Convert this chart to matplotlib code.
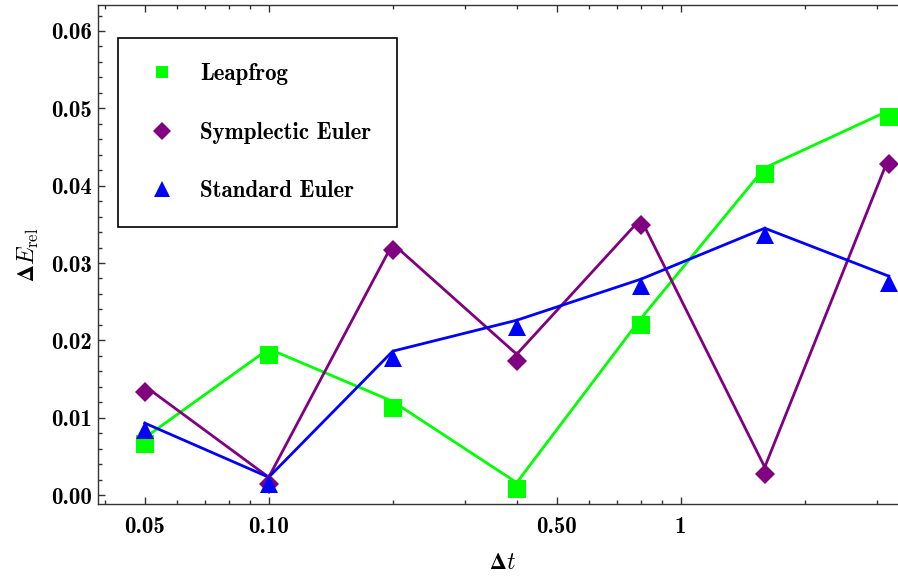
import matplotlib
matplotlib.use('Agg')
import matplotlib.pyplot as plt
from matplotlib import transforms
from matplotlib.ticker import FixedLocator, LogLocator, MultipleLocator, NullFormatter, FixedFormatter
from matplotlib.lines import Line2D

# ---- data ----
dt = [0.05, 0.1, 0.2, 0.4, 0.8, 1.6, 3.2]
leapfrog = [0.0074, 0.0189, 0.0121, 0.0016, 0.0228, 0.0423, 0.0497]
symplectic = [0.0141, 0.0023, 0.0325, 0.0182, 0.0357, 0.0036, 0.0436]
standard = [0.0093, 0.0023, 0.0186, 0.0226, 0.0279, 0.0345, 0.0283]

series_names = ["Leapfrog", "Symplectic Euler", "Standard Euler"]
x_major = [0.05, 0.1, 0.5, 1]
x_major_labels = ["0.05", "0.10", "0.50", "1"]
y_major = [0.00, 0.01, 0.02, 0.03, 0.04, 0.05, 0.06]
y_major_labels = ["0.00", "0.01", "0.02", "0.03", "0.04", "0.05", "0.06"]

# ---- style ----
plt.rcParams['font.family'] = ['cmb10', 'DejaVu Sans']
plt.rcParams['mathtext.fontset'] = 'custom'
plt.rcParams['mathtext.rm'] = 'cmr10'
plt.rcParams['mathtext.it'] = 'cmmi10'
plt.rcParams['mathtext.bf'] = 'STIXGeneral:bold'
plt.rcParams['mathtext.fallback'] = 'cm'
plt.rcParams['axes.unicode_minus'] = False

colors = ['#00ff00', '#800080', '#0000ff']
markers = ['s', 'D', '^']
msizes = [13, 10.5, 13]
leg_msizes = [9, 9, 11]
spine_col = '#333333'
fs_tick = 16.5
fs_leg = 16.5

W, H = 898, 580
fig = plt.figure(figsize=(W / 100, H / 100), dpi=100)
left, right, top, bottom = 97.5, 898, 5, 504.3
ax = fig.add_axes([left / W, 1 - bottom / H, (right - left) / W, (bottom - top) / H])
ax.set_xscale('log')
ax.set_xlim(0.0384, 3.37)
ax.set_ylim(-0.0012, 0.06336)

all_series = [leapfrog, symplectic, standard]
for vals, c in zip(all_series, colors):
    ax.plot(dt, vals, color=c, lw=2.0, solid_joinstyle='miter', zorder=2, clip_on=False)

mk_trans = transforms.offset_copy(ax.transData, fig=fig, x=0, y=-6.5, units='dots')
for vals, c, m, ms in zip(all_series, colors, markers, msizes):
    ax.plot(dt, vals, ls='none', marker=m, color=c, markersize=ms, markeredgewidth=0,
            transform=mk_trans, zorder=3, clip_on=False)

# ticks
ax.xaxis.set_major_locator(FixedLocator(x_major))
ax.xaxis.set_major_formatter(FixedFormatter(x_major_labels))
ax.xaxis.set_minor_locator(LogLocator(base=10, subs=[1, 2, 3, 4, 5, 6, 7, 8, 9], numticks=20))
ax.xaxis.set_minor_formatter(NullFormatter())
ax.yaxis.set_major_locator(FixedLocator(y_major))
ax.yaxis.set_major_formatter(FixedFormatter(y_major_labels))
ax.yaxis.set_minor_locator(MultipleLocator(0.002))

ax.tick_params(which='both', direction='in', top=True, right=False, color=spine_col, width=1.0)
ax.tick_params(which='major', length=5)
ax.tick_params(which='minor', length=2.6)
ax.tick_params(axis='x', which='major', pad=8.5, labelsize=fs_tick)
ax.tick_params(axis='y', which='major', pad=4, labelsize=fs_tick)

for s in ['left', 'bottom', 'top']:
    ax.spines[s].set_color(spine_col)
    ax.spines[s].set_linewidth(1.0)
ax.spines['right'].set_visible(False)

ax.set_xlabel(r'$\mathbf{\Delta}t$', fontsize=17)
ax.set_ylabel(r'$\mathbf{\Delta}E_{\mathrm{rel}}$', fontsize=17)
ax.xaxis.label.set_va('center')
ax.yaxis.label.set_va('center')
ax.xaxis.set_label_coords((502 - left) / (right - left), (bottom - 563) / (bottom - top))
ax.yaxis.set_label_coords((28 - left) / (right - left), 0.5)

handles = [Line2D([], [], ls='none', marker=m, color=c, markersize=ms, markeredgewidth=0)
           for m, c, ms in zip(markers, colors, leg_msizes)]
leg = ax.legend(handles, series_names, loc='upper left',
                bbox_to_anchor=(118 / W, 1 - 38 / H), bbox_transform=fig.transFigure,
                borderaxespad=0, prop={'family': 'cmb10', 'size': fs_leg},
                frameon=True, fancybox=False, framealpha=1, edgecolor='black',
                borderpad=1.1, handlelength=1.66, handletextpad=0.83, labelspacing=1.59)
leg.get_frame().set_linewidth(1.2)

fig.savefig('out.png', dpi=100)
